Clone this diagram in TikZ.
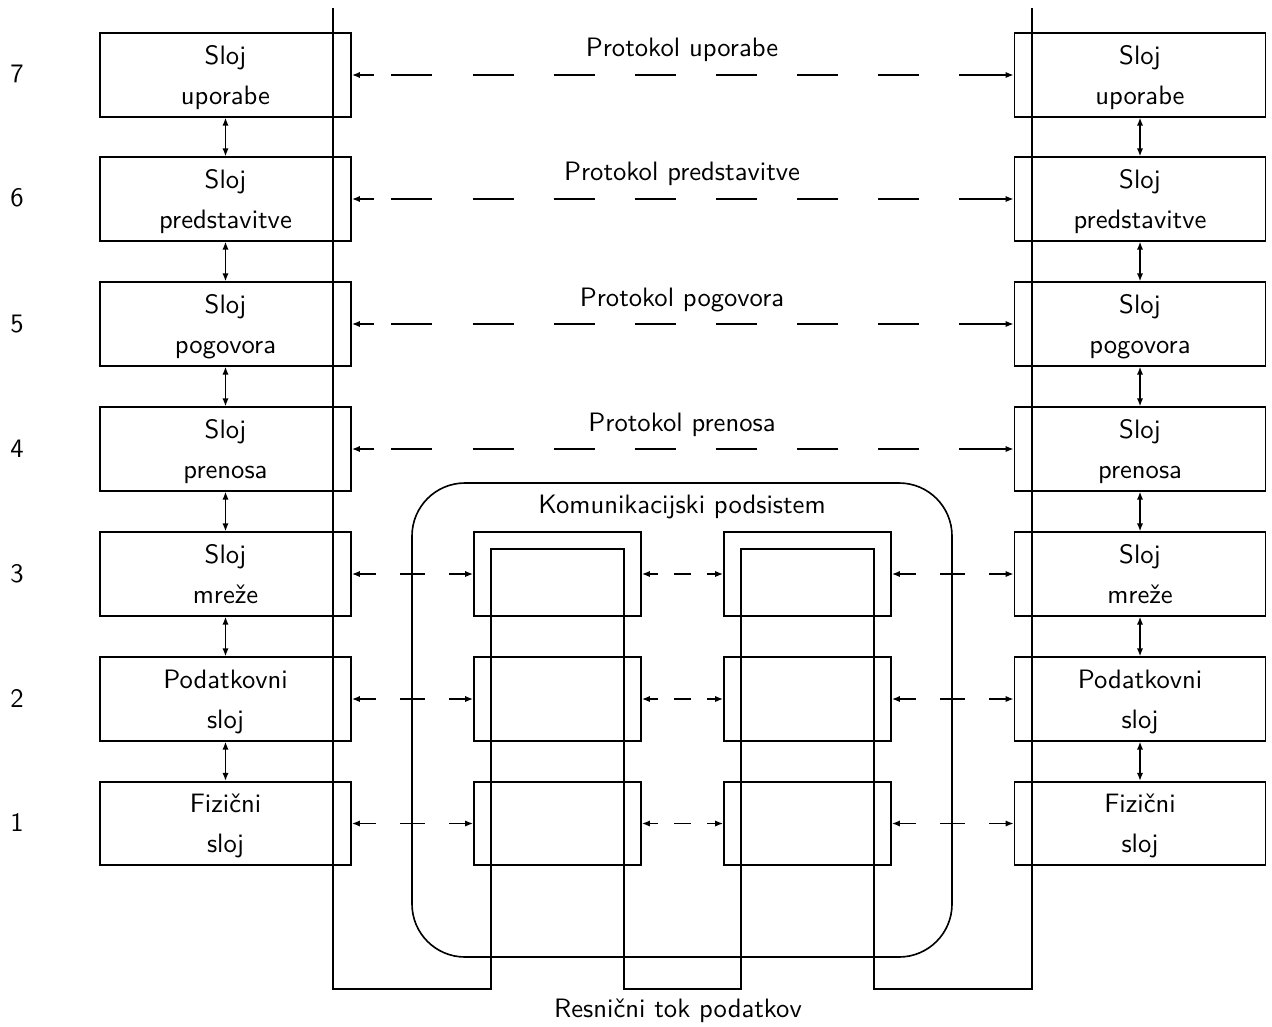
\documentclass[tikz,border=0pt]{standalone}
\usetikzlibrary{arrows.meta}
% two centred lines of a layer box, with fixed baselines
\newcommand\layerlabel[2]{\rule{0pt}{11.4pt}#1\\[3.2pt]\strut #2}
\begin{document}
\begin{tikzpicture}[x=0.4pt, y=-0.4pt, line width=0.65pt,
  >={Latex[length=3.2pt,width=2.5pt]},
  every node/.style={font=\sffamily\fontsize{10.65}{12.8}\selectfont},
  layer/.style={draw, minimum width=100.4pt, minimum height=33.4pt, inner sep=0pt, align=center},
  relay/.style={draw, minimum width=66.8pt, minimum height=33.4pt, inner sep=0pt},
  updown/.style={<->},
  protocol/.style={dash pattern=on 16.4pt off 16.05pt, dash phase=16.6pt,
    postaction={draw, <->, dash pattern=on 6pt off 245pt on 30pt, dash phase=0pt}},
  hop/.style={<->, dash pattern=on #1 off #1, dash phase=3pt},
  caption/.style={anchor=base},
]
\useasboundingbox (0,0) rectangle (1272,1026);

% layer stacks of the two end systems
\foreach \k/\y/\a/\b in {7/75/Sloj/uporabe, 6/199/Sloj/predstavitve,
    5/324/Sloj/pogovora, 4/449/Sloj/prenosa, 3/574/Sloj/mreže,
    2/699/Podatkovni/sloj, 1/823.5/Fizični/sloj} {
  \node[layer] (L\k) at (225.5,\y) {\layerlabel{\a}{\b}};
  \node[layer] (R\k) at (1140,\y) {\layerlabel{\a}{\b}};
  \node[caption] (num\k) at (17,\y+8) {\k};
}

% vertical service arrows
\foreach \k/\j in {7/6, 6/5, 5/4, 4/3, 3/2, 2/1} {
  \draw[updown] (L\k.south) -- (L\j.north);
  \draw[updown] (R\k.south) -- (R\j.north);
}

% peer protocols of the upper layers
\foreach \k/\y/\t in {7/75/Protokol uporabe, 6/199/Protokol predstavitve,
    5/324/Protokol pogovora, 4/449/Protokol prenosa} {
  \node[caption] (prot\k) at (682,\y-18) {\t};
  \draw[protocol] (L\k.east) -- (R\k.west);
}

% communication subnet
\node[draw, rounded corners=21.2pt, minimum width=216pt, minimum height=189.6pt, inner sep=0pt] (sub) at (682,720) {};
\node[caption] (subtitle) at (682,513) {Komunikacijski podsistem};

\foreach \k/\y in {3/574, 2/699, 1/823.5} {
  \node[relay] (A\k) at (557.5,\y) {};
  \node[relay] (B\k) at (807.5,\y) {};
  \draw[hop=9.76pt] (L\k.east) -- (A\k.west);
  \draw[hop=6.56pt] (A\k.east) -- (B\k.west);
  \draw[hop=9.76pt] (B\k.east) -- (R\k.west);
}

% real data flow
\draw (333,8) -- (333,989) -- (491,989) -- (491,549) -- (624,549) -- (624,989)
  -- (741,989) -- (741,549) -- (874,549) -- (874,989) -- (1032,989) -- (1032,8);
\node[caption] (flow) at (678,1017) {Resnični tok podatkov};
\end{tikzpicture}
\end{document}
